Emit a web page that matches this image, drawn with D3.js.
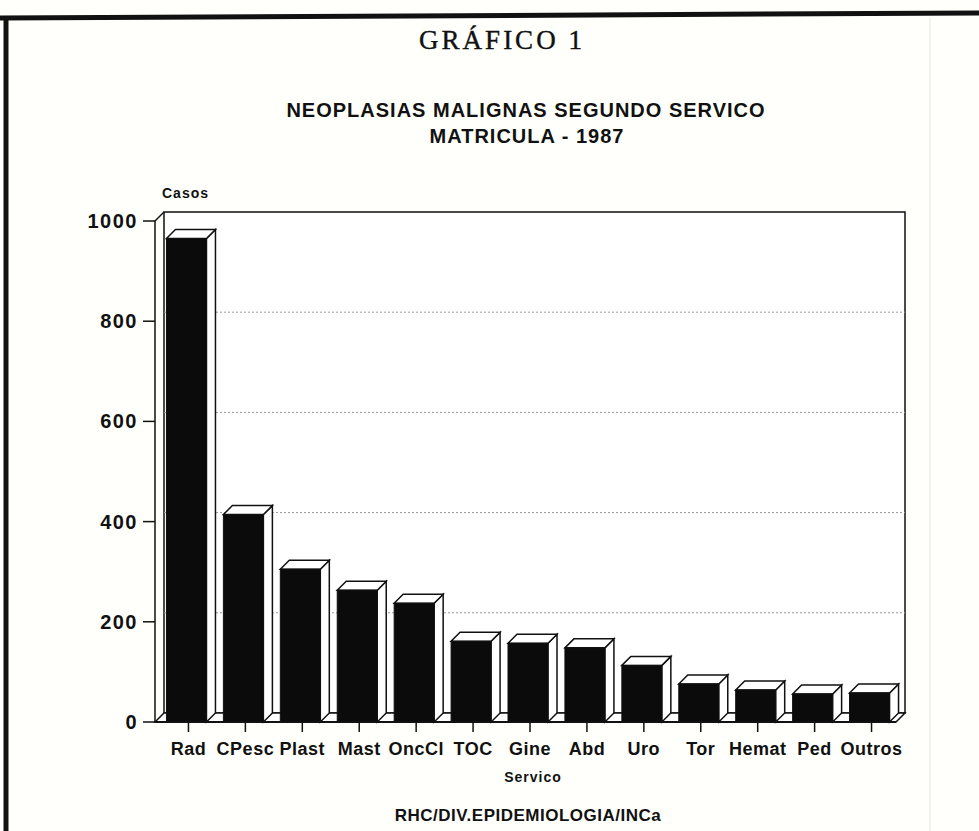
<!DOCTYPE html>
<html>
<head>
<meta charset="utf-8">
<script src="https://cdn.jsdelivr.net/npm/d3@7"></script>
<style>
  body { margin: 0; background: #fffffb; }
  svg text { font-family: 'Liberation Sans', Arial, sans-serif; font-weight: bold; fill: #111; }
</style>
</head>
<body>
<div class="chartWrap"></div>
<script>
var width = 979,
  height = 831,
  depth = 9,
  faceLeft = 22,
  faceRight = 18;

// data
var categories = ['Rad', 'CPesc', 'Plast', 'Mast', 'OncCl', 'TOC', 'Gine', 'Abd', 'Uro', 'Tor', 'Hemat', 'Ped', 'Outros'];
var casos = [965, 414, 305, 263, 237, 161, 157, 148, 113, 76, 64, 56, 58];
var yTicks = [0, 200, 400, 600, 800, 1000];
var gridTicks = [200, 400, 600, 800];

var svg = d3.select('.chartWrap')
  .append('svg')
  .attr('width', width)
  .attr('height', height);

var x = d3.scaleBand().domain(categories).range([160, 900]);
var y = d3.scaleLinear().domain([0, 1000]).range([722, 221]);

var x0 = 155, x1 = 896;

//page frame (thick scan border + faint fold)
svg.append('line')
  .attr('x1', 930).attr('y1', 18).attr('x2', 930).attr('y2', height)
  .style('stroke', '#efefe6').style('stroke-width', 1.5);
svg.append('line')
  .attr('x1', 0).attr('y1', 18).attr('x2', width).attr('y2', 13)
  .style('stroke', '#111').style('stroke-width', 5);
svg.append('line')
  .attr('x1', 6).attr('y1', 16).attr('x2', 6).attr('y2', height)
  .style('stroke', '#111').style('stroke-width', 5);

//titles
svg.append('text')
  .attr('x', 502).attr('y', 49)
  .attr('text-anchor', 'middle')
  .style('font-family', "'Liberation Serif', 'DejaVu Serif', serif")
  .style('font-weight', 'normal')
  .style('font-size', '27px')
  .style('letter-spacing', '3px')
  .style('stroke', '#111').style('stroke-width', 0.4)
  .text('GRÁFICO 1');

svg.append('text')
  .attr('x', 526).attr('y', 117)
  .attr('text-anchor', 'middle')
  .style('font-size', '20px')
  .style('letter-spacing', '1px')
  .text('NEOPLASIAS MALIGNAS SEGUNDO SERVICO');

svg.append('text')
  .attr('x', 527).attr('y', 143)
  .attr('text-anchor', 'middle')
  .style('font-size', '20px')
  .style('letter-spacing', '1px')
  .text('MATRICULA - 1987');

svg.append('text')
  .attr('x', 162).attr('y', 198)
  .style('font-size', '14px')
  .style('letter-spacing', '1px')
  .text('Casos');

//back wall and floor
var plot = svg.append('g').attr('class', 'plot');

plot.append('path')
  .attr('d', 'M' + (x0 + depth) + ',' + (y(1000) - depth) +
    'L' + (x1 + depth) + ',' + (y(1000) - depth) +
    'L' + (x1 + depth) + ',' + (y(0) - depth) +
    'L' + (x0 + depth) + ',' + (y(0) - depth) + 'Z')
  .style('fill', '#fff')
  .style('stroke', '#111')
  .style('stroke-width', 1.5);

//dotted grid lines on the back wall
plot.selectAll('.grid')
  .data(gridTicks)
  .enter()
    .append('line')
    .attr('class', 'grid')
    .attr('x1', x0 + depth)
    .attr('x2', x1 + depth)
    .attr('y1', function(d){ return y(d) - depth; })
    .attr('y2', function(d){ return y(d) - depth; })
    .style('stroke', '#999')
    .style('stroke-width', 1)
    .style('stroke-dasharray', '2,2');

//floor
plot.append('path')
  .attr('d', 'M' + x0 + ',' + y(0) +
    'L' + (x0 + depth) + ',' + (y(0) - depth) +
    'L' + (x1 + depth) + ',' + (y(0) - depth) +
    'L' + x1 + ',' + y(0) + 'Z')
  .style('fill', '#fff')
  .style('stroke', '#111')
  .style('stroke-width', 1.5);

//left side wall edge
plot.append('path')
  .attr('d', 'M' + x0 + ',' + y(1000) +
    'L' + (x0 + depth) + ',' + (y(1000) - depth))
  .style('fill', 'none')
  .style('stroke', '#111')
  .style('stroke-width', 1.5);

//bars
var bars = plot.selectAll('.bar')
  .data(casos)
  .enter()
    .append('g')
    .attr('class', 'bar');

var cx = function(i){ return x(categories[i]) + x.bandwidth() / 2; };

bars.append('path')
  .attr('class', 'barSide')
  .attr('d', function(d, i){
    var c = cx(i), t = y(d);
    return 'M' + (c + faceRight) + ',' + t +
      'L' + (c + faceRight + depth) + ',' + (t - depth) +
      'L' + (c + faceRight + depth) + ',' + (y(0) - depth) +
      'L' + (c + faceRight) + ',' + y(0) + 'Z';
  })
  .style('fill', '#fff')
  .style('stroke', '#111')
  .style('stroke-width', 1.5);

bars.append('path')
  .attr('class', 'barTop')
  .attr('d', function(d, i){
    var c = cx(i), t = y(d);
    return 'M' + (c - faceLeft) + ',' + t +
      'L' + (c - faceLeft + depth) + ',' + (t - depth) +
      'L' + (c + faceRight + depth) + ',' + (t - depth) +
      'L' + (c + faceRight) + ',' + t + 'Z';
  })
  .style('fill', '#fff')
  .style('stroke', '#111')
  .style('stroke-width', 1.5);

bars.append('rect')
  .attr('class', 'barFront')
  .attr('x', function(d, i){ return cx(i) - faceLeft; })
  .attr('y', function(d){ return y(d); })
  .attr('width', faceLeft + faceRight)
  .attr('height', function(d){ return y(0) - y(d); })
  .style('fill', '#0b0b0b')
  .style('stroke', '#111')
  .style('stroke-width', 1);

//y axis
var yAxis = svg.append('g').attr('class', 'yAxis');
yAxis.append('line')
  .attr('x1', x0).attr('x2', x0)
  .attr('y1', y(0)).attr('y2', y(1000))
  .style('stroke', '#111').style('stroke-width', 1.5);
yAxis.selectAll('.yTick')
  .data(yTicks)
  .enter()
    .append('line')
    .attr('class', 'yTick')
    .attr('x1', x0 - 12).attr('x2', x0)
    .attr('y1', function(d){ return y(d); })
    .attr('y2', function(d){ return y(d); })
    .style('stroke', '#111').style('stroke-width', 1.5);
yAxis.selectAll('.yLabel')
  .data(yTicks)
  .enter()
    .append('text')
    .attr('class', 'yLabel')
    .attr('x', 138)
    .attr('y', function(d){ return y(d) + 7; })
    .attr('text-anchor', 'end')
    .style('font-size', '20px')
    .style('letter-spacing', '1.5px')
    .text(function(d){ return d; });

//x axis
var xAxis = svg.append('g').attr('class', 'xAxis');
xAxis.append('line')
  .attr('x1', x0).attr('x2', x1)
  .attr('y1', y(0)).attr('y2', y(0))
  .style('stroke', '#111').style('stroke-width', 2);
xAxis.selectAll('.xTick')
  .data(categories)
  .enter()
    .append('line')
    .attr('class', 'xTick')
    .attr('x1', function(d){ return x(d) + x.bandwidth() / 2; })
    .attr('x2', function(d){ return x(d) + x.bandwidth() / 2; })
    .attr('y1', y(0)).attr('y2', y(0) + 10)
    .style('stroke', '#111').style('stroke-width', 1.5);
xAxis.selectAll('.xLabel')
  .data(categories)
  .enter()
    .append('text')
    .attr('class', 'xLabel')
    .attr('x', function(d){ return x(d) + x.bandwidth() / 2; })
    .attr('y', 755)
    .attr('text-anchor', 'middle')
    .style('font-size', '18px')
    .style('letter-spacing', '0.5px')
    .text(function(d){ return d; });

svg.append('text')
  .attr('x', 533).attr('y', 782)
  .attr('text-anchor', 'middle')
  .style('font-size', '14px')
  .style('letter-spacing', '1px')
  .text('Servico');

svg.append('text')
  .attr('x', 528).attr('y', 821)
  .attr('text-anchor', 'middle')
  .style('font-size', '17px')
  .style('letter-spacing', '0.5px')
  .text('RHC/DIV.EPIDEMIOLOGIA/INCa');
</script>
</body>
</html>
